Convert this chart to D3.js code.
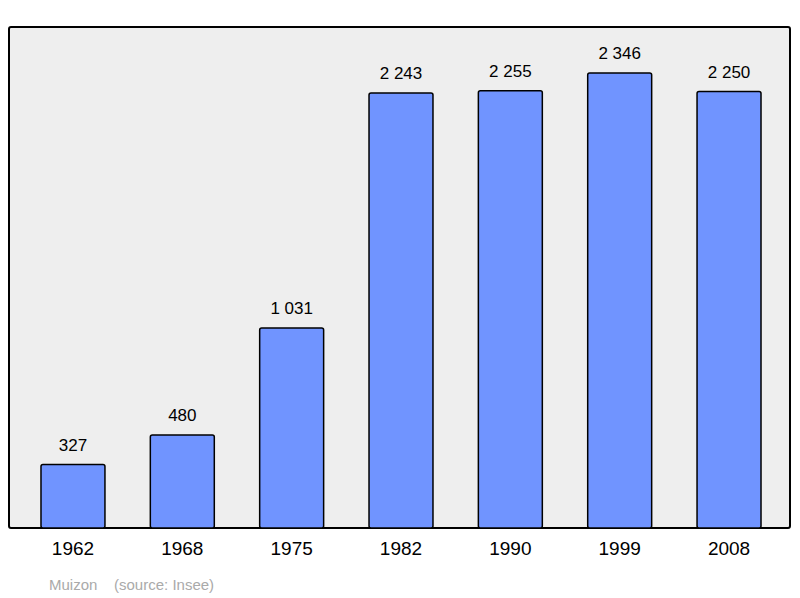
<!DOCTYPE html>
<html><head><meta charset="utf-8">
<script src="https://cdn.jsdelivr.net/npm/d3@7"></script>
<style>body{margin:0;background:#fff}</style></head>
<body><svg id="c" width="800" height="598"></svg>
<script>
const years = ["1962","1968","1975","1982","1990","1999","2008"];
const population = [327,480,1031,2243,2255,2346,2250];
const labels = ["327","480","1 031","2 243","2 255","2 346","2 250"];

const svg = d3.select("#c");
svg.append("rect").attr("x",9).attr("y",27).attr("width",781).attr("height",501)
  .attr("rx",2).attr("fill","#eeeeee").attr("stroke","#000").attr("stroke-width",2);

const x = d3.scaleBand().domain(years).range([18.3,783.7]).paddingInner(0.415).paddingOuter(0.2075);
const y = d3.scaleLinear().domain([0,2346]).range([528,73]);

svg.selectAll("rect.bar").data(years).join("rect").attr("class","bar")
  .attr("x",d=>x(d)).attr("width",x.bandwidth())
  .attr("y",(d,i)=>y(population[i])).attr("height",(d,i)=>528-y(population[i]))
  .attr("rx",2).attr("fill","#7094ff").attr("stroke","#000").attr("stroke-width",1.5);

svg.selectAll("text.val").data(years).join("text").attr("class","val")
  .attr("x",d=>x(d)+x.bandwidth()/2).attr("y",(d,i)=>y(population[i])-14)
  .attr("text-anchor","middle").attr("font-family","Liberation Sans, Arial, sans-serif")
  .attr("font-size",17).text((d,i)=>labels[i]);

const ax = svg.append("g").attr("transform","translate(0,528)")
  .call(d3.axisBottom(x).tickSize(0).tickPadding(14));
ax.select(".domain").remove();
ax.selectAll("text").attr("font-family","Liberation Sans, Arial, sans-serif").attr("font-size",19).attr("fill","#000");

svg.append("text").attr("x",49).attr("y",590).attr("fill","#aaaaaa")
  .attr("font-family","Liberation Sans, Arial, sans-serif").attr("font-size",15)
  .attr("xml:space","preserve").text("Muizon    (source: Insee)");
</script></body></html>
